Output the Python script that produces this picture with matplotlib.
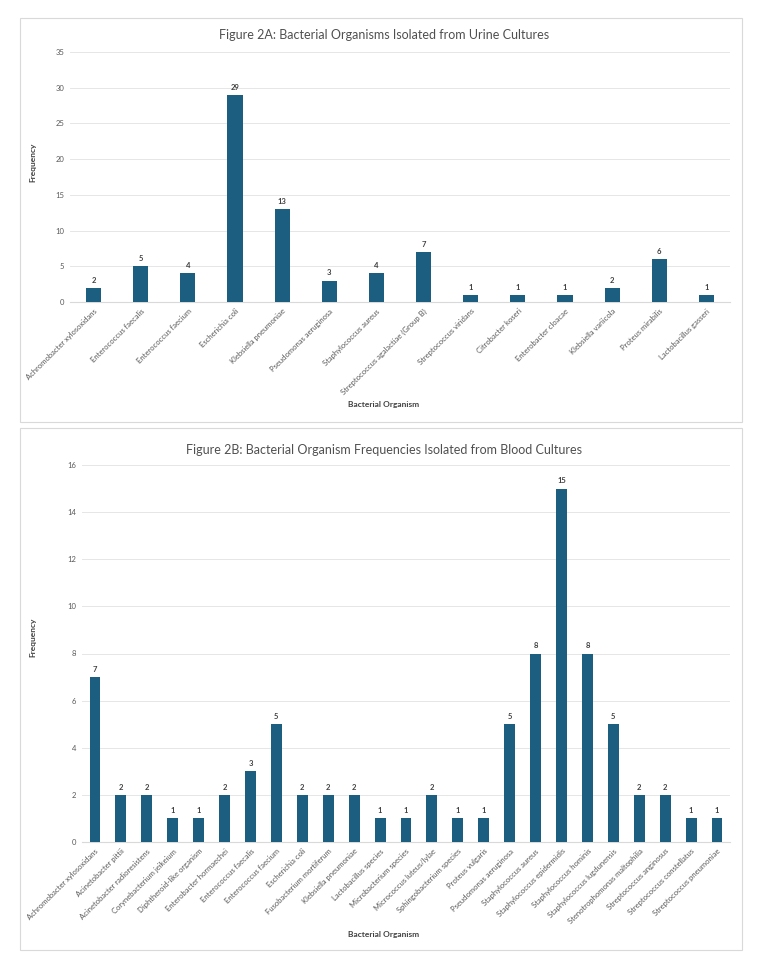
import matplotlib.pyplot as plt
from matplotlib.patches import Rectangle

urine_names = ['Achromobacter xylosoxidans', 'Enterococcus faecalis', 'Enterococcus faecium',
               'Escherichia coli', 'Klebsiella pneumoniae', 'Pseudomonas aeruginosa',
               'Staphylococcus aureus', 'Streptococcus agalactiae (Group B)',
               'Streptococcus viridans', 'Citrobacter koseri', 'Enterobacter cloacae',
               'Klebsiella variicola', 'Proteus mirabilis', 'Lactobacillus gasseri']
urine_counts = [2, 5, 4, 29, 13, 3, 4, 7, 1, 1, 1, 2, 6, 1]

blood_names = ['Achromobacter xylosoxidans', 'Acinetobacter pittii', 'Acinetobacter radioresistens',
               'Corynebacterium jeikeium', 'Diphtheroid-like organism', 'Enterobacter hormaechei',
               'Enterococcus faecalis', 'Enterococcus faecium', 'Escherichia coli',
               'Fusobacterium mortiferum', 'Klebsiella pneumoniae', 'Lactobacillus species',
               'Microbacterium species', 'Micrococcus luteus/lylae', 'Sphingobacterium species',
               'Proteus vulgaris', 'Pseudomonas aeruginosa', 'Staphylococcus aureus',
               'Staphylococcus epidermidis', 'Staphylococcus hominis', 'Staphylococcus lugdunensis',
               'Stenotrophomonas maltophilia', 'Streptococcus anginosus',
               'Streptococcus constellatus', 'Streptococcus pneumoniae']
blood_counts = [7, 2, 2, 1, 1, 2, 3, 5, 2, 2, 2, 1, 1, 2, 1, 1, 5, 8, 15, 8, 5, 2, 2, 1, 1]

plt.rcParams['font.family'] = ['Lato', 'DejaVu Sans']
bar_color = '#1b5e80'
txt = '#595959'

fig = plt.figure(figsize=(7.68, 9.61), dpi=100)
W, H = 768, 961

# panel frames
for (x0, y0, x1, y1) in [(20, 18, 742, 422), (20, 428, 742, 950)]:
    fig.patches.append(Rectangle((x0 / W, 1 - y1 / H), (x1 - x0) / W, (y1 - y0) / H,
                                 transform=fig.transFigure, fill=False,
                                 edgecolor='#d9d9d9', linewidth=0.8))


def panel(rect, names, counts, ymax, step, width, title, title_y, xlabel_y, ylabel_pos):
    ax = fig.add_axes(rect)
    xs = range(len(names))
    bars = ax.bar(xs, counts, width=width, color=bar_color, zorder=3)
    ax.bar_label(bars, labels=[str(c) for c in counts], padding=3, fontsize=5.5,
                 color='#404040', fontweight='bold')
    ax.set_xlim(-0.5, len(names) - 0.5)
    ax.set_ylim(0, ymax)
    ax.set_yticks(range(0, ymax + 1, step))
    ax.grid(axis='y', color='#e6e6e6', linewidth=0.7, zorder=0)
    for s in ['top', 'right', 'left']:
        ax.spines[s].set_visible(False)
    ax.spines['bottom'].set_color('#d9d9d9')
    ax.tick_params(axis='both', length=0, labelsize=5.5, colors=txt, pad=4)
    ax.set_xticks(list(xs))
    ax.set_xticklabels(names, rotation=45, ha='right', rotation_mode='anchor')
    fig.text(ylabel_pos[0] / W, 1 - ylabel_pos[1] / H, 'Frequency', rotation=90,
             ha='center', va='center', fontsize=6, fontweight='bold', color='#404040')
    fig.text(0.5, 1 - xlabel_y / H, 'Bacterial Organism', ha='center', va='center',
             fontsize=6, fontweight='bold', color='#404040')
    fig.text(0.5, 1 - title_y / H, title, ha='center', va='center', fontsize=9, color='#505050')
    return ax


panel([70 / W, 1 - 302 / H, 660 / W, 250 / H], urine_names, urine_counts, 35, 5, 0.32,
      'Figure 2A: Bacterial Organisms Isolated from Urine Cultures', 35, 405, (33, 162))
panel([82 / W, 1 - 842 / H, 648 / W, 377 / H], blood_names, blood_counts, 16, 2, 0.42,
      'Figure 2B: Bacterial Organism Frequencies Isolated from Blood Cultures', 450, 935, (33, 637))

fig.savefig('out.png', dpi=100)
